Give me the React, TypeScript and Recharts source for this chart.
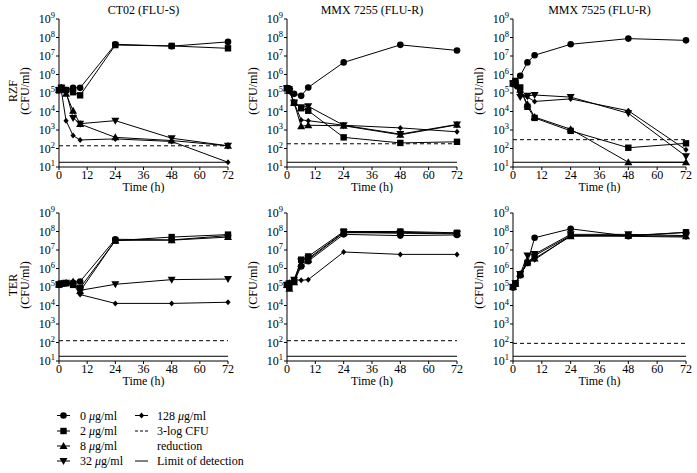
import React from 'react';
import { LineChart, Line, XAxis, YAxis, ReferenceLine } from 'recharts';

const TIMES = [0, 1, 3, 6, 9, 24, 48, 72];
const X_TICKS = [0, 12, 24, 36, 48, 60, 72];
const Y_TICKS = [1e1, 1e2, 1e3, 1e4, 1e5, 1e6, 1e7, 1e8, 1e9];

// RZF - CT02 (FLU-S)
const rzfCt02_0 = [1.45e5, 1.9e5, 1.45e5, 1.9e5, 1.9e5, 4.3e7, 3.4e7, 5.8e7];
const rzfCt02_2 = [1.45e5, 1.9e5, 1.45e5, 1.1e5, 7.5e4, 3.9e7, 3.5e7, 2.6e7];
const rzfCt02_8 = [1.45e5, 1.9e5, 9e4, 1.1e4, 2.1e3, 400, 270, 140];
const rzfCt02_32 = [1.45e5, 1.9e5, 1.2e5, 4.5e3, 2.2e3, 3.2e3, 360, 140];
const rzfCt02_128 = [1.45e5, 1.3e5, 3.2e3, 500, 290, 330, 240, 18];

// RZF - MMX 7255 (FLU-R)
const rzfM7255_0 = [1.8e5, 1.6e5, 9e4, 7e4, 2e5, 4.5e6, 4e7, 2e7];
const rzfM7255_2 = [1.8e5, 1.6e5, 3e4, 1.5e4, 1.1e4, 400, 200, 230];
const rzfM7255_8 = [1.8e5, 1.3e5, 3e4, 1.6e3, 1.8e3, 1.7e3, 550, 1.9e3];
const rzfM7255_32 = [1.8e5, 1.3e5, 3e4, 1.7e4, 1.9e4, 1.8e3, 600, 2e3];
const rzfM7255_128 = [1.8e5, 1.3e5, 3e4, 3.5e3, 3.2e3, 1.8e3, 1.3e3, 800];

// RZF - MMX 7525 (FLU-R)
const rzfM7525_0 = [3.3e5, 4e5, 8.5e5, 4.5e6, 1.1e7, 4.3e7, 8.7e7, 7e7];
const rzfM7525_2 = [3.3e5, 4.5e5, 2e5, 1.8e4, 4.5e3, 900, 110, 190];
const rzfM7525_8 = [3.3e5, 3e5, 1.5e5, 2.5e4, 5e3, 1.1e3, 18, 18];
const rzfM7525_32 = [3.3e5, 2.5e5, 6e4, 7e4, 7.8e4, 6e4, 8e3, 38];
const rzfM7525_128 = [3.3e5, 2.5e5, 1e5, 6e4, 3.5e4, 4.8e4, 1.1e4, 85];

// TER - CT02 (FLU-S)
const terCt02_0 = [1.35e5, 1.5e5, 1.6e5, 1.7e5, 2e5, 3.8e7, 3.5e7, 6e7];
const terCt02_2 = [1.35e5, 1.5e5, 1.6e5, 1.3e5, 9e4, 3.2e7, 5e7, 6.8e7];
const terCt02_8 = [1.35e5, 1.5e5, 1.7e5, 2e5, 6e4, 3.3e7, 3.4e7, 5e7];
const terCt02_32 = [1.35e5, 1.5e5, 1.7e5, 1.5e5, 6.6e4, 1.4e5, 2.5e5, 2.7e5];
const terCt02_128 = [1.35e5, 1.5e5, 1.6e5, 1.5e5, 3.9e4, 1.3e4, 1.3e4, 1.5e4];

// TER - MMX 7255 (FLU-R)
const terM7255_0 = [1.3e5, 1.5e5, 2e5, 1.3e6, 2.5e6, 7e7, 6e7, 6.5e7];
const terM7255_2 = [1.3e5, 1e5, 2e5, 3e6, 4.5e6, 1e8, 1e8, 8.5e7];
const terM7255_8 = [1.3e5, 8e4, 1.8e5, 1.8e6, 3e6, 8.5e7, 9e7, 8e7];
const terM7255_32 = [1.3e5, 1.6e5, 2.5e5, 2.5e6, 3.5e6, 9e7, 8e7, 7.5e7];
const terM7255_128 = [1.3e5, 1.8e5, 2.5e5, 2.3e5, 2.5e5, 7.8e6, 5.8e6, 5.8e6];

// TER - MMX 7525 (FLU-R)
const terM7525_0 = [9.5e4, 1.5e5, 4.3e5, 2e6, 4.6e7, 1.4e8, 5.6e7, 9e7];
const terM7525_2 = [1e5, 1.5e5, 4.5e5, 2e6, 5e6, 6e7, 6e7, 9e7];
const terM7525_8 = [1e5, 1.5e5, 5e5, 2.5e6, 3.5e6, 5.5e7, 6e7, 5.5e7];
const terM7525_32 = [1e5, 1.6e5, 5e5, 5e6, 6e6, 7e7, 7e7, 6e7];
const terM7525_128 = [1e5, 1.5e5, 4e5, 2.2e6, 3e6, 6e7, 5.5e7, 5e7];

// 3-log reduction and limit of detection per panel
const reductionLevels = [140, 180, 300, 125, 125, 90];
const detectionLimit = 18;

const titles = ['CT02 (FLU-S)', 'MMX 7255 (FLU-R)', 'MMX 7525 (FLU-R)'];
const rowLabels = ['RZF', 'TER'];

const FONT = 'Liberation Serif, Times New Roman, Times, serif';

type Shape = 'circle' | 'square' | 'up' | 'down' | 'diamond';

const SERIES: { key: string; shape: Shape }[] = [
  { key: 'c0', shape: 'circle' },
  { key: 'c2', shape: 'square' },
  { key: 'c8', shape: 'up' },
  { key: 'c32', shape: 'down' },
  { key: 'c128', shape: 'diamond' },
];

const Marker = ({ shape, cx, cy }: { shape: Shape; cx: number; cy: number }) => {
  if (shape === 'circle') return <circle cx={cx} cy={cy} r={3.3} fill="#000" />;
  if (shape === 'square') return <rect x={cx - 3.2} y={cy - 3.2} width={6.4} height={6.4} fill="#000" />;
  if (shape === 'up')
    return <polygon points={`${cx},${cy - 4} ${cx - 4},${cy + 3} ${cx + 4},${cy + 3}`} fill="#000" />;
  if (shape === 'down')
    return <polygon points={`${cx},${cy + 4} ${cx - 4},${cy - 3} ${cx + 4},${cy - 3}`} fill="#000" />;
  return <polygon points={`${cx},${cy - 3} ${cx + 2.6},${cy} ${cx},${cy + 3} ${cx - 2.6},${cy}`} fill="#000" />;
};

const renderDot = (shape: Shape) => (props: any) => {
  const { cx, cy, index } = props;
  if (cx == null || cy == null) return <g key={`${shape}-${index}`} />;
  return (
    <g key={`${shape}-${index}`}>
      <Marker shape={shape} cx={cx} cy={cy} />
    </g>
  );
};

const YTick = (props: any) => {
  const { x, y, payload } = props;
  const exp = Math.round(Math.log10(payload.value));
  return (
    <text x={x} y={y + 4} textAnchor="end" fontSize={12} fill="#000" stroke="none" fontFamily={FONT}>
      10<tspan dy={-5} fontSize={8.5}>{exp}</tspan>
    </text>
  );
};

const buildRows = (c0: number[], c2: number[], c8: number[], c32: number[], c128: number[]) =>
  TIMES.map((t, i) => ({ t, c0: c0[i], c2: c2[i], c8: c8[i], c32: c32[i], c128: c128[i] }));

const panelData = [
  buildRows(rzfCt02_0, rzfCt02_2, rzfCt02_8, rzfCt02_32, rzfCt02_128),
  buildRows(rzfM7255_0, rzfM7255_2, rzfM7255_8, rzfM7255_32, rzfM7255_128),
  buildRows(rzfM7525_0, rzfM7525_2, rzfM7525_8, rzfM7525_32, rzfM7525_128),
  buildRows(terCt02_0, terCt02_2, terCt02_8, terCt02_32, terCt02_128),
  buildRows(terM7255_0, terM7255_2, terM7255_8, terM7255_32, terM7255_128),
  buildRows(terM7525_0, terM7525_2, terM7525_8, terM7525_32, terM7525_128),
];

// plot area geometry: [left, right] per column, [top, bottom] per row
const COLS = [
  [59, 228],
  [287, 457],
  [513, 686],
];
const ROWS = [
  [19, 167],
  [213, 361],
];

const Y_AXIS_W = 50;
const M_TOP = 10;
const M_RIGHT = 8;
const X_AXIS_H = 24;

const axisLine = { stroke: '#000', strokeWidth: 1 };

const Panel = ({ idx }: { idx: number }) => {
  const col = idx % 3;
  const row = Math.floor(idx / 3);
  const [pl, pr] = COLS[col];
  const [pt, pb] = ROWS[row];
  const width = Y_AXIS_W + (pr - pl) + M_RIGHT;
  const height = M_TOP + (pb - pt) + X_AXIS_H + 2;
  return (
    <div style={{ position: 'absolute', left: pl - Y_AXIS_W, top: pt - M_TOP }}>
      <LineChart
        width={width}
        height={height}
        data={panelData[idx]}
        margin={{ top: M_TOP, right: M_RIGHT, bottom: 2, left: 0 }}
      >
        <XAxis
          dataKey="t"
          type="number"
          domain={[0, 72]}
          ticks={X_TICKS}
          interval={0}
          axisLine={axisLine}
          tickLine={axisLine}
          tickSize={3}
          tickMargin={0}
          tick={{ fill: '#000', stroke: 'none', fontSize: 12, fontFamily: FONT }}
          height={X_AXIS_H}
          label={{
            value: 'Time (h)',
            position: 'insideBottom',
            offset: 0,
            fill: '#000',
            stroke: 'none',
            fontSize: 12,
            fontFamily: FONT,
          }}
        />
        <YAxis
          scale="log"
          domain={[10, 1e9]}
          ticks={Y_TICKS}
          interval={0}
          allowDataOverflow
          axisLine={axisLine}
          tickLine={axisLine}
          tickSize={3}
          tickMargin={1}
          width={Y_AXIS_W}
          tick={<YTick />}
        />
        <ReferenceLine y={reductionLevels[idx]} stroke="#000" strokeWidth={1} strokeDasharray="4 3" />
        <ReferenceLine y={detectionLimit} stroke="#000" strokeWidth={1} />
        {SERIES.map((s) => (
          <Line
            key={s.key}
            dataKey={s.key}
            stroke="#000"
            strokeWidth={1}
            dot={renderDot(s.shape)}
            activeDot={false}
            isAnimationActive={false}
          />
        ))}
      </LineChart>
    </div>
  );
};

const legendLeft = [
  { label: '0', shape: 'circle' as Shape },
  { label: '2', shape: 'square' as Shape },
  { label: '8', shape: 'up' as Shape },
  { label: '32', shape: 'down' as Shape },
];
const legendRowsY = [415.5, 431, 446, 461];

const Overlay = () => (
  <svg
    width={697}
    height={473}
    style={{ position: 'absolute', left: 0, top: 0, pointerEvents: 'none' }}
    fontFamily={FONT}
    fontSize={12}
    fill="#000"
  >
    {titles.map((t, i) => (
      <text key={t} x={(COLS[i][0] + COLS[i][1]) / 2} y={14} textAnchor="middle">
        {t}
      </text>
    ))}
    {ROWS.map((r, ri) => {
      const cy = (r[0] + r[1]) / 2 - 2;
      return (
        <g key={ri}>
          <text transform={`translate(17,${cy}) rotate(-90)`} textAnchor="middle">
            {rowLabels[ri]}
          </text>
          {COLS.map((c, ci) => (
            <text key={ci} transform={`translate(${c[0] - 30},${cy}) rotate(-90)`} textAnchor="middle">
              (CFU/ml)
            </text>
          ))}
        </g>
      );
    })}
    {legendLeft.map((l, i) => (
      <g key={l.label}>
        <line x1={57} x2={70} y1={legendRowsY[i]} y2={legendRowsY[i]} stroke="#000" />
        <Marker shape={l.shape} cx={63.5} cy={legendRowsY[i]} />
        <text x={80} y={legendRowsY[i] + 4}>
          {l.label} <tspan fontStyle="italic">μ</tspan>g/ml
        </text>
      </g>
    ))}
    <line x1={135} x2={148} y1={legendRowsY[0]} y2={legendRowsY[0]} stroke="#000" />
    <Marker shape="diamond" cx={141.5} cy={legendRowsY[0]} />
    <text x={157} y={legendRowsY[0] + 4}>
      128 <tspan fontStyle="italic">μ</tspan>g/ml
    </text>
    <line x1={135} x2={148} y1={legendRowsY[1]} y2={legendRowsY[1]} stroke="#000" strokeDasharray="3 2" />
    <text x={157} y={legendRowsY[1] + 4}>3-log CFU</text>
    <text x={157} y={legendRowsY[2] + 4}>reduction</text>
    <line x1={135} x2={148} y1={legendRowsY[3]} y2={legendRowsY[3]} stroke="#000" />
    <text x={157} y={legendRowsY[3] + 4}>Limit of detection</text>
  </svg>
);

export default function App() {
  return (
    <div
      style={{
        position: 'absolute',
        left: 0,
        top: 0,
        width: 697,
        height: 473,
        background: '#fff',
        fontFamily: FONT,
      }}
    >
      {[0, 1, 2, 3, 4, 5].map((i) => (
        <Panel key={i} idx={i} />
      ))}
      <Overlay />
    </div>
  );
}
